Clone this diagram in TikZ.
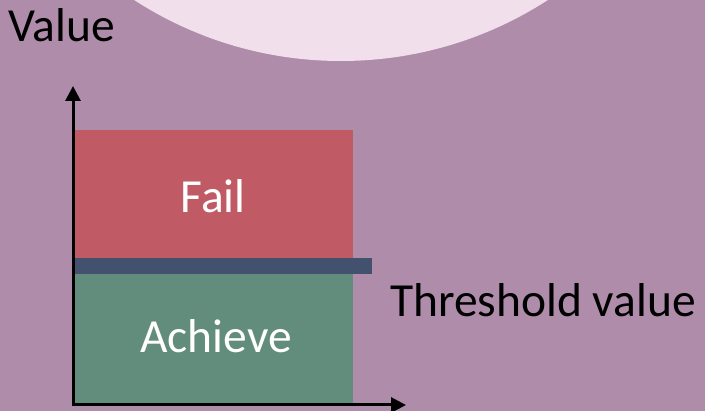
\documentclass[tikz,border=0pt]{standalone}
\usepackage{fontspec}
\setmainfont{Carlito}
\usetikzlibrary{arrows.meta}
\definecolor{bgpurple}{RGB}{174,140,170}
\definecolor{circpink}{RGB}{241,224,236}
\definecolor{failred}{RGB}{192,90,100}
\definecolor{barblue}{RGB}{66,82,110}
\definecolor{achgreen}{RGB}{98,140,124}
\begin{document}
\begin{tikzpicture}[x=1pt,y=-1pt,
  bigtext/.style={font=\fontsize{47.5}{56}\selectfont, inner sep=0pt},
  axis/.style={line width=3pt, -{Triangle[width=15pt,length=15pt]}},
  blockbox/.style={draw=none, inner sep=0pt, anchor=north west}]
\useasboundingbox (0,0) rectangle (705,411);
\begin{scope}
\clip (0,0) rectangle (705,411);
\fill[bgpurple] (0,0) rectangle (705,411);
\fill[circpink] (341,-320) circle[radius=381];
\end{scope}
\node[bigtext, anchor=base west] (valuelbl) at (8,42) {Value};
\node[blockbox, fill=failred, minimum width=278pt, minimum height=128pt] (fail) at (75,130) {};
\node[blockbox, fill=achgreen, minimum width=278pt, minimum height=131pt] (ach) at (75,273) {};
\node[blockbox, fill=barblue, minimum width=297pt, minimum height=16pt] (bar) at (75,258) {};
\node[bigtext, text=white, anchor=base] (failtxt) at (213,213) {Fail};
\node[bigtext, text=white, anchor=base] (achtxt) at (216,353) {Achieve};
\node[bigtext, anchor=base west] (thr) at (390,317) {Threshold value};
\coordinate (o) at (73,405);
\coordinate (ytip) at (73,86);
\coordinate (xtip) at (406,405);
\draw[axis] ([yshift=1.5pt]o) -- (ytip);
\draw[axis] ([xshift=-1.5pt]o) -- (xtip);
\end{tikzpicture}
\end{document}
